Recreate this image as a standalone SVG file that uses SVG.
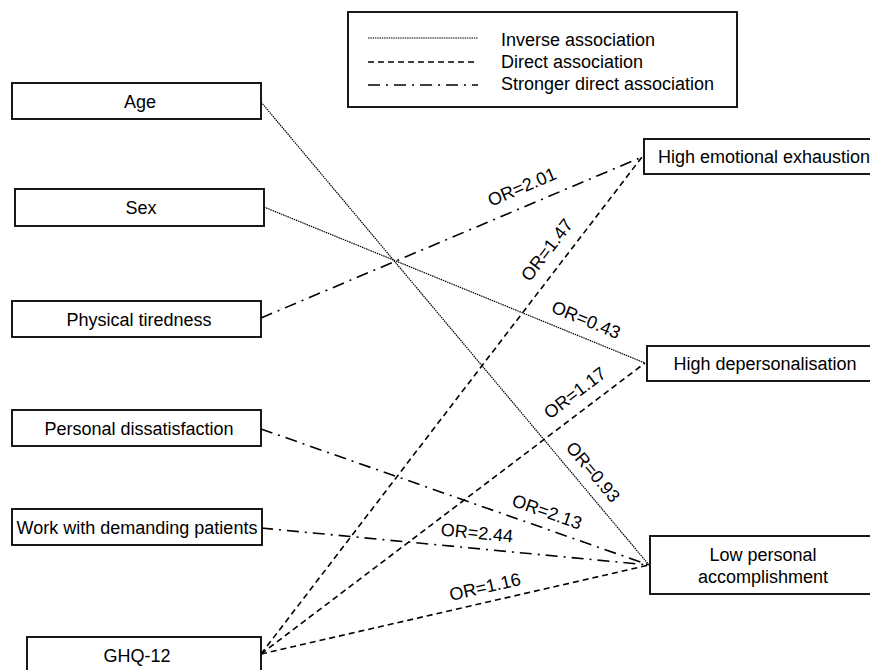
<svg xmlns="http://www.w3.org/2000/svg" width="870" height="670" viewBox="0 0 870 670">
<style>
text{font-family:"Liberation Sans",Arial,sans-serif;font-size:18px;fill:#000}
.box{fill:#fff;stroke:#000;stroke-width:1.8}
.c{text-anchor:middle}
.inv{stroke:#000;stroke-width:1.2;stroke-dasharray:1.5 0.8;fill:none}
.dir{stroke:#000;stroke-width:1.6;stroke-dasharray:6 4;fill:none}
.str{stroke:#000;stroke-width:1.6;stroke-dasharray:12 6 2 6;fill:none}
</style>
<rect width="870" height="670" fill="#fff"/>
<g id="legend">
<rect class="box" x="348" y="12" width="389" height="95"/>
<line class="inv" x1="368" y1="38" x2="478" y2="38"/>
<line class="dir" x1="368" y1="62" x2="476" y2="62"/>
<line class="str" x1="368" y1="85" x2="478" y2="85"/>
<text x="501" y="46">Inverse association</text>
<text x="501" y="68">Direct association</text>
<text x="501" y="90">Stronger direct association</text>
</g>
<g id="connectors">
<line class="inv" x1="261" y1="102" x2="649" y2="565"/>
<line class="inv" x1="264" y1="207" x2="645" y2="363"/>
<line class="str" x1="261" y1="318" x2="642" y2="157"/>
<line class="str" x1="261" y1="429" x2="649" y2="565"/>
<line class="str" x1="261" y1="528" x2="649" y2="565"/>
<line class="dir" x1="261" y1="654" x2="642" y2="157"/>
<line class="dir" x1="261" y1="654" x2="645" y2="363"/>
<line class="dir" x1="261" y1="654" x2="649" y2="565"/>
<g class="c">
<text transform="translate(522,187) rotate(-22.9)" y="6">OR=2.01</text>
<text transform="translate(547,250) rotate(-52.5)" y="6">OR=1.47</text>
<text transform="translate(586,320) rotate(22.3)" y="6">OR=0.43</text>
<text transform="translate(575,393) rotate(-37.2)" y="6">OR=1.17</text>
<text transform="translate(593,472) rotate(50)" y="6">OR=0.93</text>
<text transform="translate(547,512) rotate(19.4)" y="6">OR=2.13</text>
<text transform="translate(477,533) rotate(5.6)" y="6">OR=2.44</text>
<text transform="translate(485,587) rotate(-12.9)" y="6">OR=1.16</text>
</g>
</g>
<g id="age"><rect class="box" x="12" y="83" width="249" height="36"/><text class="c" x="140" y="107.5">Age</text></g>
<g id="sex"><rect class="box" x="15" y="189" width="249" height="37"/><text class="c" x="141" y="214">Sex</text></g>
<g id="physical"><rect class="box" x="12" y="301" width="249" height="36"/><text class="c" x="139" y="325.5">Physical tiredness</text></g>
<g id="personal"><rect class="box" x="12" y="410" width="249" height="36"/><text class="c" x="139" y="434.5">Personal dissatisfaction</text></g>
<g id="work"><rect class="box" x="12" y="509" width="250" height="36"/><text class="c" x="137" y="533.5">Work with demanding patients</text></g>
<g id="ghq"><rect class="box" x="27" y="637" width="234" height="36"/><text class="c" x="137" y="661.5">GHQ-12</text></g>
<g id="hee"><rect class="box" x="644" y="139" width="236" height="35"/><text class="c" x="764" y="163">High emotional exhaustion</text></g>
<g id="hd"><rect class="box" x="647" y="346" width="237" height="35"/><text class="c" x="765" y="370">High depersonalisation</text></g>
<g id="lpa"><rect class="box" x="650" y="536" width="226" height="58"/><text class="c" x="763" y="561">Low personal</text><text class="c" x="763" y="583">accomplishment</text></g>
</svg>
